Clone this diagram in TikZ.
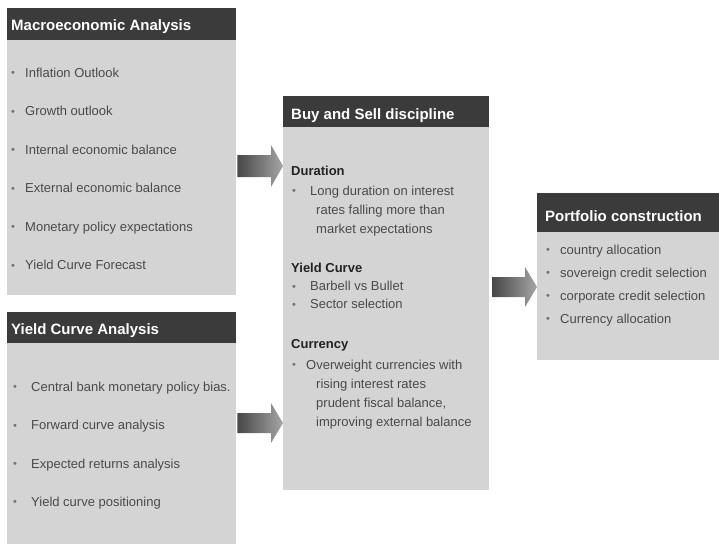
\documentclass[tikz,border=0pt]{standalone}
\usepackage{fontspec}
\setmainfont{Liberation Sans}
\usetikzlibrary{positioning,calc}

\definecolor{headgrey}{HTML}{3B3B3B}
\definecolor{bodygrey}{HTML}{D4D4D4}
\definecolor{textgrey}{HTML}{4A4A4A}
\definecolor{subgrey}{HTML}{222222}
\newcommand{\bul}[1]{\makebox[#1][l]{\raisebox{0.5pt}{\fontsize{11}{11}\selectfont\color{black!55}\textbullet}}}

\begin{document}
\begin{tikzpicture}[
    x=1pt, y=-1pt,
    headbox/.style={rectangle, fill=headgrey, anchor=north west, inner sep=0pt},
    bodybox/.style={rectangle, fill=bodygrey, anchor=north west, inner sep=0pt},
    title/.style={anchor=base west, inner sep=0pt, text=white, font=\fontsize{15}{18}\selectfont\bfseries},
    item/.style={anchor=base west, inner sep=0pt, text=textgrey, font=\fontsize{13}{16}\selectfont},
    sub/.style={anchor=base west, inner sep=0pt, text=subgrey, font=\fontsize{13}{16}\selectfont\bfseries},
    fatarrow/.style={left color=black!72, right color=black!35}
  ]
    \useasboundingbox (0,0) rectangle (719,544);

    % macroeconomic analysis
    \node[headbox, minimum width=229pt, minimum height=32pt] (machead) at (7,8) {};
    \node[bodybox, minimum width=229pt, minimum height=255pt] (macbody) at (7,40) {};
    \node[title] (mactitle) at (11,30) {Macroeconomic Analysis};
    \node[item] (mac1) at (11,77) {\bul{14pt}Inflation Outlook};
    \node[item] (mac2) at (11,115.5) {\bul{14pt}Growth outlook};
    \node[item] (mac3) at (11,154) {\bul{14pt}Internal economic balance};
    \node[item] (mac4) at (11,192.5) {\bul{14pt}External economic balance};
    \node[item] (mac5) at (11,231) {\bul{14pt}Monetary policy expectations};
    \node[item] (mac6) at (11,269.5) {\bul{14pt}Yield Curve Forecast};

    % yield curve analysis
    \node[headbox, minimum width=229pt, minimum height=31pt] (ychead) at (7,312) {};
    \node[bodybox, minimum width=229pt, minimum height=201pt] (ycbody) at (7,343) {};
    \node[title] (yctitle) at (11,334) {Yield Curve Analysis};
    \node[item] (yc1) at (13,391) {\bul{18pt}Central bank monetary policy bias.};
    \node[item] (yc2) at (13,429.5) {\bul{18pt}Forward curve analysis};
    \node[item] (yc3) at (13,468) {\bul{18pt}Expected returns analysis};
    \node[item] (yc4) at (13,506) {\bul{18pt}Yield curve positioning};

    % buy and sell discipline
    \node[headbox, minimum width=206pt, minimum height=31pt] (bshead) at (283,96) {};
    \node[bodybox, minimum width=206pt, minimum height=363pt] (bsbody) at (283,127) {};
    \node[title] (bstitle) at (291,119) {Buy and Sell discipline};
    \node[sub] (dur) at (291,175) {Duration};
    \node[item] (dur1) at (292,195) {\bul{18pt}Long duration on interest};
    \node[item] (dur2) at (316,214) {rates falling more than};
    \node[item] (dur3) at (316,233) {market expectations};
    \node[sub] (curve) at (291,272) {Yield Curve};
    \node[item] (curve1) at (292,290.5) {\bul{18pt}Barbell vs Bullet};
    \node[item] (curve2) at (292,308.5) {\bul{18pt}Sector selection};
    \node[sub] (cur) at (291,348) {Currency};
    \node[item] (cur1) at (292,369) {\bul{14pt}Overweight currencies with};
    \node[item] (cur2) at (316,388) {rising interest rates};
    \node[item] (cur3) at (316,407) {prudent fiscal balance,};
    \node[item] (cur4) at (316,426) {improving external balance};

    % portfolio construction
    \node[headbox, minimum width=182pt, minimum height=39pt] (pchead) at (537,193) {};
    \node[bodybox, minimum width=182pt, minimum height=128pt] (pcbody) at (537,232) {};
    \node[title] (pctitle) at (545,221) {Portfolio construction};
    \node[item] (pc1) at (546,254) {\bul{14pt}country allocation};
    \node[item] (pc2) at (546,277) {\bul{14pt}sovereign credit selection};
    \node[item] (pc3) at (546,300) {\bul{14pt}corporate credit selection};
    \node[item] (pc4) at (546,323) {\bul{14pt}Currency allocation};

    % block arrows
    \coordinate (a1) at ([xshift=1pt]macbody.east |- 0,166);
    \coordinate (b1) at (bsbody.west |- 0,166);
    \coordinate (a2) at ([xshift=1pt]ycbody.east |- 0,423);
    \coordinate (b2) at (bsbody.west |- 0,423);
    \coordinate (a3) at ([xshift=3pt]bsbody.east |- 0,287);
    \coordinate (b3) at (pcbody.west |- 0,287);
    \shade[fatarrow] ($(a1)+(0,-11)$) -- ($(b1)+(-12,-11)$) -- ($(b1)+(-12,-21)$) -- (b1)
      -- ($(b1)+(-12,21)$) -- ($(b1)+(-12,11)$) -- ($(a1)+(0,11)$) -- cycle;
    \shade[fatarrow] ($(a2)+(0,-10)$) -- ($(b2)+(-12,-10)$) -- ($(b2)+(-12,-20)$) -- (b2)
      -- ($(b2)+(-12,20)$) -- ($(b2)+(-12,10)$) -- ($(a2)+(0,10)$) -- cycle;
    \shade[fatarrow] ($(a3)+(0,-10)$) -- ($(b3)+(-12,-10)$) -- ($(b3)+(-12,-20)$) -- (b3)
      -- ($(b3)+(-12,20)$) -- ($(b3)+(-12,10)$) -- ($(a3)+(0,10)$) -- cycle;
\end{tikzpicture}
\end{document}
